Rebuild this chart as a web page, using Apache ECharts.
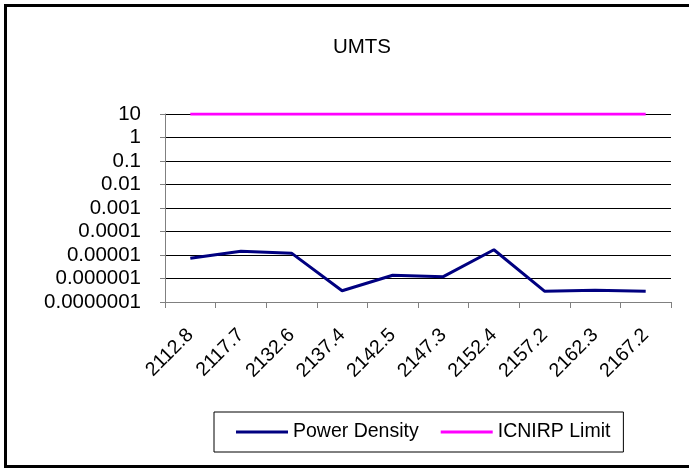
<!DOCTYPE html>
<html>
<head>
<meta charset="utf-8">
<script src="https://cdn.jsdelivr.net/npm/echarts@6/dist/echarts.min.js"></script>
<style>
  html, body { margin: 0; padding: 0; background: #fff; overflow: hidden; }
  #frame { position: absolute; left: 4px; top: 4px; width: 900px; height: 464px; border: 3px solid #000; box-sizing: border-box; }
  #main { position: absolute; left: 0; top: 0; width: 689px; height: 468px; }
</style>
</head>
<body>
<div id="frame"></div>
<div id="main"></div>
<script>
const frequencies = ['2112.8', '2117.7', '2132.6', '2137.4', '2142.5', '2147.3', '2152.4', '2157.2', '2162.3', '2167.2'];
const powerDensity = [7.2e-6, 1.44e-5, 1.2e-5, 3.0e-7, 1.38e-6, 1.2e-6, 1.67e-5, 2.9e-7, 3.2e-7, 2.9e-7];
const icnirpLimit = [10, 10, 10, 10, 10, 10, 10, 10, 10, 10];

const font = "Arial, 'Liberation Sans', sans-serif";

const myChart = echarts.init(document.getElementById('main'));

const option = {
  animation: false,
  title: {
    text: 'UMTS',
    left: 357,
    top: 32,
    textAlign: 'center',
    textStyle: { fontFamily: font, fontSize: 20.5, fontWeight: 'normal', color: '#000' }
  },
  legend: {
    left: 214,
    top: 412,
    padding: [10, 13, 10, 22],
    itemGap: 22,
    itemWidth: 52,
    itemHeight: 3,
    icon: 'rect',
    borderColor: '#000',
    borderWidth: 1,
    textStyle: { fontFamily: font, fontSize: 19.5, color: '#000' },
    data: ['Power Density', 'ICNIRP Limit']
  },
  grid: { left: 165, right: 18, top: 114, bottom: 166 },
  xAxis: {
    type: 'category',
    data: frequencies,
    boundaryGap: true,
    axisLine: { lineStyle: { color: '#808080', width: 1 } },
    axisTick: { show: true, interval: 0, length: 6, lineStyle: { color: '#808080' } },
    axisLabel: { interval: 0, rotate: 45, margin: 30, fontFamily: font, fontSize: 19.5, color: '#000' }
  },
  yAxis: {
    type: 'log',
    logBase: 10,
    min: 1e-7,
    max: 10,
    splitNumber: 8,
    axisLine: { show: true, lineStyle: { color: '#808080', width: 1 } },
    axisTick: { show: true, length: 5, lineStyle: { color: '#808080' } },
    splitLine: { show: true, lineStyle: { color: '#000', width: 1 } },
    axisLabel: {
      margin: 24,
      fontFamily: font,
      fontSize: 20.5,
      color: '#000',
      formatter: v => {
        const d = Math.max(0, -Math.round(Math.log10(v)));
        return Number(v).toFixed(d);
      }
    }
  },
  series: [
    {
      name: 'Power Density',
      type: 'line',
      data: powerDensity,
      symbol: 'none',
      color: '#000080',
      lineStyle: { color: '#000080', width: 3 }
    },
    {
      name: 'ICNIRP Limit',
      type: 'line',
      data: icnirpLimit,
      symbol: 'none',
      color: '#ff00ff',
      lineStyle: { color: '#ff00ff', width: 3 }
    }
  ]
};

option && myChart.setOption(option);
</script>
</body>
</html>
